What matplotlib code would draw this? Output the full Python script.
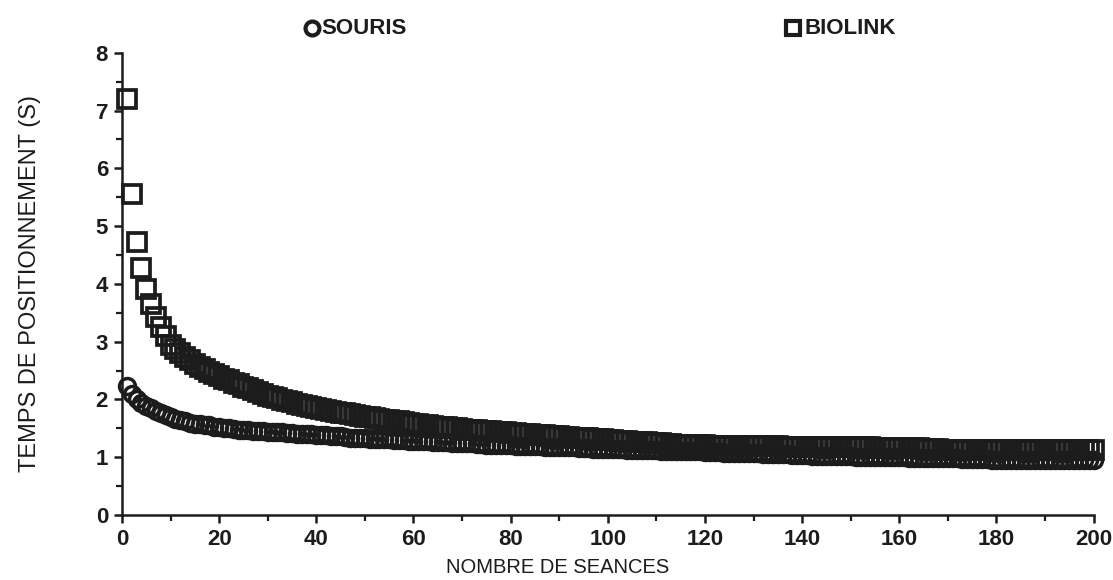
import matplotlib
matplotlib.use("Agg")
import matplotlib.pyplot as plt
from matplotlib.lines import Line2D

# temps de positionnement moyen (s) par seance, seances 1..200
seances = list(range(1, 201))

biolink = [
    7.20, 5.55, 4.72, 4.27, 3.92, 3.66, 3.42, 3.25, 3.10, 2.95,
    2.87, 2.80, 2.74, 2.68, 2.62, 2.57, 2.52, 2.48, 2.44, 2.40,
    2.36, 2.33, 2.29, 2.26, 2.22, 2.19, 2.16, 2.13, 2.09, 2.06,
    2.04, 2.02, 1.99, 1.97, 1.95, 1.93, 1.91, 1.89, 1.87, 1.85,
    1.83, 1.82, 1.80, 1.79, 1.77, 1.76, 1.74, 1.73, 1.71, 1.70,
    1.69, 1.68, 1.66, 1.65, 1.64, 1.63, 1.62, 1.61, 1.59, 1.58,
    1.57, 1.56, 1.55, 1.54, 1.53, 1.52, 1.52, 1.51, 1.50, 1.49,
    1.48, 1.48, 1.47, 1.46, 1.46, 1.45, 1.44, 1.44, 1.43, 1.42,
    1.42, 1.41, 1.41, 1.40, 1.39, 1.39, 1.38, 1.37, 1.37, 1.36,
    1.35, 1.35, 1.34, 1.34, 1.33, 1.33, 1.32, 1.31, 1.31, 1.30,
    1.30, 1.29, 1.28, 1.28, 1.27, 1.27, 1.26, 1.26, 1.25, 1.25,
    1.24, 1.23, 1.23, 1.22, 1.22, 1.22, 1.21, 1.21, 1.21, 1.21,
    1.20, 1.20, 1.20, 1.20, 1.20, 1.20, 1.20, 1.19, 1.19, 1.19,
    1.19, 1.19, 1.19, 1.19, 1.19, 1.18, 1.18, 1.18, 1.18, 1.18,
    1.18, 1.18, 1.18, 1.18, 1.18, 1.17, 1.17, 1.17, 1.17, 1.17,
    1.17, 1.17, 1.17, 1.17, 1.16, 1.16, 1.16, 1.16, 1.16, 1.16,
    1.16, 1.16, 1.16, 1.16, 1.15, 1.15, 1.14, 1.14, 1.13, 1.13,
    1.13, 1.13, 1.13, 1.13, 1.13, 1.13, 1.13, 1.13, 1.13, 1.13,
    1.13, 1.13, 1.13, 1.13, 1.13, 1.13, 1.13, 1.13, 1.13, 1.13,
    1.13, 1.13, 1.12, 1.12, 1.12, 1.12, 1.12, 1.12, 1.12, 1.12,
]

souris = [
    2.24, 2.09, 2.00, 1.94, 1.89, 1.85, 1.80, 1.76, 1.73, 1.70,
    1.67, 1.65, 1.62, 1.60, 1.58, 1.57, 1.56, 1.55, 1.53, 1.52,
    1.51, 1.50, 1.49, 1.48, 1.47, 1.47, 1.46, 1.45, 1.45, 1.44,
    1.44, 1.43, 1.43, 1.42, 1.42, 1.41, 1.41, 1.40, 1.40, 1.39,
    1.38, 1.38, 1.37, 1.37, 1.36, 1.35, 1.34, 1.34, 1.33, 1.33,
    1.32, 1.32, 1.31, 1.31, 1.31, 1.30, 1.30, 1.30, 1.29, 1.29,
    1.28, 1.28, 1.28, 1.27, 1.27, 1.26, 1.26, 1.25, 1.25, 1.25,
    1.24, 1.24, 1.23, 1.23, 1.22, 1.22, 1.22, 1.21, 1.21, 1.21,
    1.20, 1.20, 1.20, 1.19, 1.19, 1.19, 1.18, 1.18, 1.18, 1.18,
    1.17, 1.17, 1.17, 1.16, 1.16, 1.16, 1.15, 1.15, 1.15, 1.14,
    1.14, 1.14, 1.14, 1.13, 1.13, 1.13, 1.12, 1.12, 1.12, 1.12,
    1.11, 1.11, 1.11, 1.11, 1.10, 1.10, 1.10, 1.10, 1.10, 1.09,
    1.09, 1.09, 1.09, 1.08, 1.08, 1.08, 1.08, 1.07, 1.07, 1.07,
    1.07, 1.06, 1.06, 1.06, 1.05, 1.05, 1.05, 1.04, 1.04, 1.04,
    1.04, 1.03, 1.03, 1.03, 1.03, 1.02, 1.02, 1.02, 1.02, 1.02,
    1.01, 1.01, 1.01, 1.01, 1.01, 1.00, 1.00, 1.00, 1.00, 1.00,
    1.00, 0.99, 0.99, 0.99, 0.99, 0.99, 0.98, 0.98, 0.98, 0.98,
    0.98, 0.98, 0.97, 0.97, 0.97, 0.97, 0.97, 0.97, 0.96, 0.96,
    0.96, 0.96, 0.96, 0.96, 0.96, 0.96, 0.95, 0.95, 0.95, 0.95,
    0.95, 0.95, 0.95, 0.95, 0.95, 0.95, 0.95, 0.95, 0.95, 0.95,
]

x_ticks = [0, 20, 40, 60, 80, 100, 120, 140, 160, 180, 200]
y_ticks = [0, 1, 2, 3, 4, 5, 6, 7, 8]

ink = "#1c1c1c"
plt.rcParams["font.family"] = ["Liberation Sans", "DejaVu Sans"]

fig = plt.figure(figsize=(11.13, 5.80), dpi=100)
ax = fig.add_axes([0.1096, 0.112, 0.873, 0.797])

ax.plot(seances, souris, linestyle="none", marker="o", markersize=11.5,
        markerfacecolor="none", markeredgecolor=ink, markeredgewidth=2.5,
        clip_on=False)
ax.plot(seances, biolink, linestyle="none", marker="s", markersize=12.5,
        markerfacecolor="none", markeredgecolor=ink, markeredgewidth=2.7,
        clip_on=False)

ax.set_xlim(0, 200)
ax.set_ylim(0, 8)
ax.set_xticks(x_ticks)
ax.set_yticks(y_ticks)
ax.set_xticks(range(10, 200, 20), minor=True)
ax.set_yticks([v + 0.5 for v in y_ticks[:-1]], minor=True)

for side in ["top", "right"]:
    ax.spines[side].set_visible(False)
for side in ["left", "bottom"]:
    ax.spines[side].set_linewidth(1.8)
    ax.spines[side].set_color(ink)

ax.tick_params(which="major", direction="out", length=6, width=1.8,
               colors=ink, labelsize=16, pad=4)
ax.tick_params(which="minor", direction="out", length=4, width=1.6, colors=ink)
for lab in ax.get_xticklabels() + ax.get_yticklabels():
    lab.set_fontweight("bold")

fig.text(0.027, 0.512, "TEMPS DE POSITIONNEMENT (S)", rotation=90,
         ha="center", va="center", fontsize=17, color=ink)
fig.text(0.501, 0.022, "NOMBRE DE SEANCES", ha="center", va="center",
         fontsize=14.5, color=ink)

# legende en haut
fig.add_artist(Line2D([0.2805], [0.951], transform=fig.transFigure,
                      marker="o", markersize=10, markerfacecolor="none",
                      markeredgecolor=ink, markeredgewidth=3))
fig.text(0.2885, 0.951, "SOURIS", ha="left", va="center", fontsize=16,
         color=ink, fontweight="bold")
fig.add_artist(Line2D([0.7125], [0.951], transform=fig.transFigure,
                      marker="s", markersize=10.5, markerfacecolor="none",
                      markeredgecolor=ink, markeredgewidth=3))
fig.text(0.7225, 0.951, "BIOLINK", ha="left", va="center", fontsize=16,
         color=ink, fontweight="bold")

fig.savefig("out.png", dpi=100)
